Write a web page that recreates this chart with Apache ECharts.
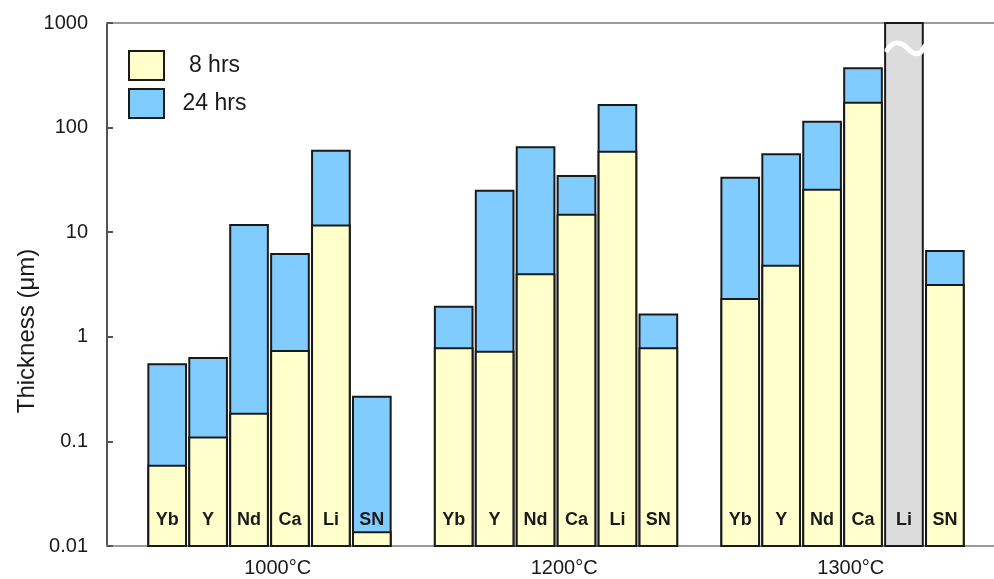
<!DOCTYPE html>
<html>
<head>
<meta charset="utf-8">
<title>Layer thickness</title>
<script src="https://cdn.jsdelivr.net/npm/echarts@6/dist/echarts.min.js"></script>
<style>
  html, body { margin: 0; padding: 0; background: #ffffff; }
  #chart { width: 994px; height: 579px; }
</style>
</head>
<body>
<div id="chart"></div>
<script>
// Annealing temperatures (one cluster of bars each) and the dopants inside every cluster
const temperatures = ['1000°C', '1200°C', '1300°C'];
const dopants = ['Yb', 'Y', 'Nd', 'Ca', 'Li', 'SN'];

// Thickness in µm after 8 h and after 24 h, one array per temperature
const t8h_1000 = [0.0586, 0.109, 0.184, 0.73, 11.6, 0.0135];
const t24h_1000 = [0.546, 0.627, 11.7, 6.2, 60.1, 0.267];
const t8h_1200 = [0.776, 0.72, 3.96, 14.7, 58.9, 0.776];
const t24h_1200 = [1.94, 24.9, 64.8, 34.5, 164.5, 1.63];
const t8h_1300 = [2.30, 4.79, 25.5, 173, null, 3.13];
const t24h_1300 = [33.2, 55.6, 114, 369, null, 6.61];

// Samples whose layer runs past the top of the scale
const offScaleBars = [['1300°C', 'Li']];

// Log axis
const yMin = 0.01;
const yMax = 1000;
const yTickLabels = ['0.01', '0.1', '1', '10', '100', '1000'];

const series8 = [t8h_1000, t8h_1200, t8h_1300];
const series24 = [t24h_1000, t24h_1200, t24h_1300];

// One empty slot between clusters
const SLOTS_PER_GROUP = dopants.length + 1;
const slotOf = (g, i) => g * SLOTS_PER_GROUP + i;
const HALF = 0.46;

const data8 = [], data24 = [], dataOff = [], dataLabels = [];
temperatures.forEach((temp, g) => {
  dopants.forEach((d, i) => {
    const s = slotOf(g, i);
    if (series24[g][i] != null) data24.push([s, series24[g][i]]);
    if (series8[g][i] != null) data8.push([s, series8[g][i]]);
    if (offScaleBars.some(p => p[0] === temp && p[1] === d)) dataOff.push([s, yMax]);
    dataLabels.push([s, yMin, d]);
  });
});

const groupCenters = temperatures.map((t, g) => slotOf(g, 0) + (dopants.length - 1) / 2 + 0.2);

const INK = '#1a1a1a';
const FONT = '"Liberation Sans", Arial, Helvetica, sans-serif';

function barRect(api, fill) {
  const x = api.value(0);
  const v = api.value(1);
  const p1 = api.coord([x - HALF, v]);
  const p2 = api.coord([x + HALF, yMin]);
  return {
    type: 'rect',
    shape: { x: p1[0], y: p1[1], width: p2[0] - p1[0], height: p2[1] - p1[1] },
    style: { fill: fill, stroke: INK, lineWidth: 2 }
  };
}

const chart = echarts.init(document.getElementById('chart'), null, { renderer: 'canvas' });

chart.setOption({
  backgroundColor: '#ffffff',
  animation: false,
  textStyle: { fontFamily: FONT },
  grid: { left: 107, right: 0, top: 23, bottom: 33, containLabel: false },
  legend: {
    orient: 'vertical',
    left: 128,
    top: 50,
    padding: 0,
    itemWidth: 35,
    itemHeight: 29,
    itemGap: 7,
    icon: 'rect',
    selectedMode: false,
    data: [
      { name: '8 hrs', itemStyle: { color: '#ffffcc', borderColor: INK, borderWidth: 2 } },
      { name: '24 hrs', itemStyle: { color: '#80ccff', borderColor: INK, borderWidth: 2 } }
    ],
    formatter: n => '{c|' + n + '}',
    textStyle: {
      fontFamily: FONT,
      fontSize: 23,
      color: INK,
      rich: { c: { width: 91, align: 'center', fontSize: 23, fontFamily: FONT, color: INK } }
    }
  },
  xAxis: [
    {
      type: 'value',
      min: -1.47,
      max: 20.2,
      position: 'bottom',
      axisLine: { show: true, onZero: false, lineStyle: { color: '#9a9a9a', width: 2 } },
      axisTick: { show: false },
      splitLine: { show: false },
      axisLabel: {
        customValues: groupCenters,
        margin: 12,
        fontSize: 20,
        color: INK,
        fontFamily: FONT,
        formatter: v => {
          const g = groupCenters.findIndex(c => Math.abs(c - v) < 1e-6);
          return g >= 0 ? temperatures[g] : '';
        }
      }
    },
    {
      type: 'value',
      min: -1.47,
      max: 20.2,
      position: 'top',
      axisLine: { show: true, onZero: false, lineStyle: { color: '#9a9a9a', width: 2 } },
      axisTick: { show: false },
      axisLabel: { show: false },
      splitLine: { show: false }
    }
  ],
  yAxis: {
    type: 'log',
    logBase: 10,
    min: yMin,
    max: yMax,
    position: 'left',
    name: 'Thickness (μm)',
    nameLocation: 'middle',
    nameGap: 68,
    nameMoveOverlap: false,
    nameTextStyle: { fontSize: 24, color: INK, fontFamily: FONT, padding: [0, 93, 0, 0] },
    axisLine: { show: true, onZero: false, lineStyle: { color: '#555555', width: 2 } },
    axisTick: { show: true, inside: true, length: 6, lineStyle: { color: '#555555', width: 2 } },
    minorTick: { show: false },
    splitLine: { show: false },
    axisLabel: {
      margin: 19,
      fontSize: 20,
      color: INK,
      fontFamily: FONT,
      formatter: v => yTickLabels[Math.round(Math.log10(v)) + 2]
    }
  },
  series: [
    {
      name: 'off scale',
      type: 'custom',
      data: dataOff,
      encode: { x: 0, y: 1 },
      renderItem: (params, api) => {
        const r = barRect(api, '#dcdcdc');
        const s = r.shape;
        const x0 = s.x, y0 = s.y, w = s.width;
        // axis-break mark near the top of the bar
        const breakMark = {
          type: 'path',
          shape: {
            pathData:
              'M' + (x0 + 2) + ' ' + (y0 + 27) +
              ' C' + (x0 + 8) + ' ' + (y0 + 17) + ' ' + (x0 + 16) + ' ' + (y0 + 19) + ' ' + (x0 + 22) + ' ' + (y0 + 25) +
              ' S' + (x0 + w - 3) + ' ' + (y0 + 35) + ' ' + (x0 + w + 2) + ' ' + (y0 + 23)
          },
          style: { fill: 'none', stroke: '#ffffff', lineWidth: 5, lineCap: 'round' }
        };
        return { type: 'group', children: [r, breakMark] };
      },
      z: 2
    },
    {
      name: '24 hrs',
      type: 'custom',
      data: data24,
      encode: { x: 0, y: 1 },
      itemStyle: { color: '#80ccff', borderColor: INK, borderWidth: 2 },
      renderItem: (params, api) => barRect(api, '#80ccff'),
      z: 2
    },
    {
      name: '8 hrs',
      type: 'custom',
      data: data8,
      encode: { x: 0, y: 1 },
      itemStyle: { color: '#ffffcc', borderColor: INK, borderWidth: 2 },
      renderItem: (params, api) => barRect(api, '#ffffcc'),
      z: 2
    },
    {
      name: 'dopant labels',
      type: 'custom',
      data: dataLabels,
      encode: { x: 0, y: 1 },
      renderItem: (params, api) => {
        const p = api.coord([api.value(0), yMin]);
        return {
          type: 'text',
          x: p[0],
          y: p[1] - 26,
          style: {
            text: dataLabels[params.dataIndex][2],
            fill: INK,
            font: 'bold 18px ' + FONT,
            align: 'center',
            verticalAlign: 'middle'
          }
        };
      },
      z: 3
    }
  ]
});
</script>
</body>
</html>
